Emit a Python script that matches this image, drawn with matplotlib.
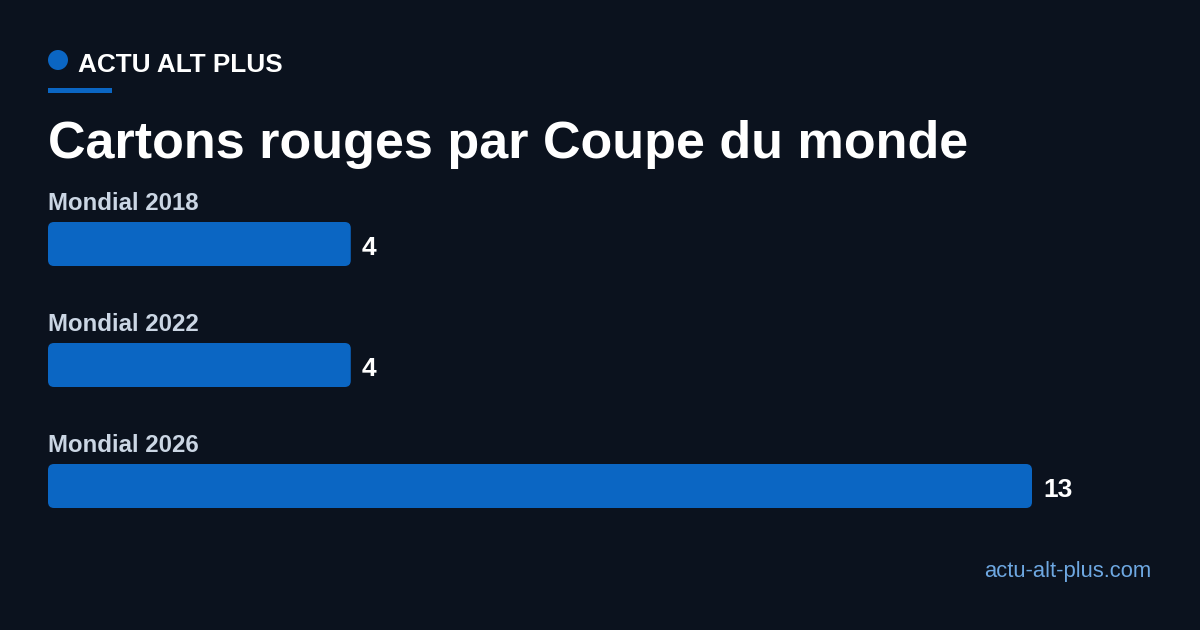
import matplotlib
matplotlib.use("Agg")
import matplotlib.pyplot as plt
from matplotlib.patches import FancyBboxPatch, Ellipse, Rectangle

categories = ["Mondial 2018", "Mondial 2022", "Mondial 2026"]
values = [4, 4, 13]
title = "Cartons rouges par Coupe du monde"
brand = "ACTU ALT PLUS"
source = "actu-alt-plus.com"

BG = "#0b121e"
BAR = "#0b66c3"
LABEL = "#cbd6e4"
URL = "#6ea8e2"

W, H = 1200, 630
plt.rcParams["font.family"] = ["Liberation Sans", "DejaVu Sans"]
fig = plt.figure(figsize=(W / 100, H / 100), dpi=100, facecolor=BG)

def fx(px):
    return px / W

def fy(py):
    return 1 - py / H

# Header
fig.patches.append(Ellipse((fx(58), fy(60)), 20 / W, 20 / H, transform=fig.transFigure,
                           facecolor=BAR, edgecolor="none"))
fig.text(fx(78), fy(72), brand, color="white", fontsize=18.8, fontweight="bold",
         va="baseline", ha="left")
fig.patches.append(Rectangle((fx(48), fy(93)), 64 / W, 5 / H, transform=fig.transFigure,
                             facecolor=BAR, edgecolor="none"))
fig.text(fx(48), fy(158), title, color="white", fontsize=37.5, fontweight="bold",
         va="baseline", ha="left")
fig.text(fx(1151), fy(577), source, color=URL, fontsize=15.8, va="baseline", ha="right")

# Bars axis: x from 48 to 1032 px spans 0..13, y in pixel units
top_px, bot_px = 170, 530
ax = fig.add_axes([fx(48), fy(bot_px), (1032 - 48) / W, (bot_px - top_px) / H])
ax.set_facecolor("none")
xmax = max(values)
ax.set_xlim(0, xmax)
ax.set_ylim(bot_px, top_px)
ax.axis("off")

bar_h = 44
centers = [244 + i * 121 for i in range(len(categories))]
bars = ax.barh(centers, values, height=bar_h, color=BAR, alpha=0)
x_per_px = xmax / (1032 - 48)
radius_px = 6
for b, cat, v in zip(bars, categories, values):
    x0, y0 = b.get_x(), b.get_y()
    w, h = b.get_width(), b.get_height()
    p = FancyBboxPatch((x0, y0), w, h,
                       boxstyle=f"round,pad=0,rounding_size={radius_px * x_per_px}",
                       mutation_aspect=1 / x_per_px,
                       facecolor=BAR, edgecolor="none")
    ax.add_patch(p)
    yc = y0 + h / 2
    ax.text(w + 11 * x_per_px, yc + 11, str(v), color="white", fontsize=19,
            fontweight="bold", va="baseline", ha="left", clip_on=False)
    ax.text(0, yc - 34, cat, color=LABEL, fontsize=17.3, fontweight="bold",
            va="baseline", ha="left", clip_on=False)

fig.savefig("out.png", dpi=100, facecolor=BG)
